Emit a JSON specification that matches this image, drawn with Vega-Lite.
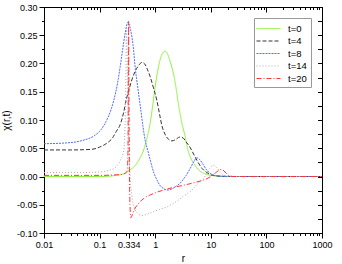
{
  "$schema": "https://vega.github.io/schema/vega-lite/v6.json",
  "width": 278,
  "height": 226,
  "autosize": "none",
  "padding": {"left": 44, "top": 7, "right": 20, "bottom": 31},
  "background": "white",
  "config": {
    "view": {"stroke": "black", "strokeWidth": 1},
    "font": "Liberation Sans",
    "axis": {"domainColor": "black", "tickColor": "black", "labelColor": "black", "titleColor": "black", "grid": false, "labelFont": "Liberation Sans", "titleFont": "Liberation Sans", "labelFontSize": 9, "titleFontSize": 10, "titleFontWeight": "normal", "labelFlush": false, "labelOverlap": false},
    "legend": {"orient": "top-right", "offset": 11, "strokeColor": "#999999", "fillColor": "white", "padding": 4, "symbolType": "M-2,0H2", "symbolSize": 144, "symbolOffset": 4, "labelOffset": 13, "symbolStrokeWidth": 1, "labelFontSize": 9.5, "labelFont": "Liberation Sans", "labelColor": "black", "rowPadding": 1.5, "cornerRadius": 0}
  },
  "data": {"values": [
    {"t":"t=0","r":0.01,"v":0},{"t":"t=0","r":0.05,"v":0},{"t":"t=0","r":0.1,"v":0},{"t":"t=0","r":0.2,"v":0.002},{"t":"t=0","r":0.29,"v":0.006},{"t":"t=0","r":0.35,"v":0.011},{"t":"t=0","r":0.44,"v":0.02},{"t":"t=0","r":0.53,"v":0.032},{"t":"t=0","r":0.62,"v":0.047},{"t":"t=0","r":0.72,"v":0.07},{"t":"t=0","r":0.81,"v":0.094},{"t":"t=0","r":0.9,"v":0.125},{"t":"t=0","r":1.0,"v":0.159},{"t":"t=0","r":1.1,"v":0.185},{"t":"t=0","r":1.2,"v":0.203},{"t":"t=0","r":1.35,"v":0.218},{"t":"t=0","r":1.5,"v":0.222},{"t":"t=0","r":1.65,"v":0.218},{"t":"t=0","r":1.8,"v":0.208},{"t":"t=0","r":2.0,"v":0.193},{"t":"t=0","r":2.3,"v":0.165},{"t":"t=0","r":2.6,"v":0.13},{"t":"t=0","r":3.0,"v":0.096},{"t":"t=0","r":3.4,"v":0.074},{"t":"t=0","r":4.0,"v":0.042},{"t":"t=0","r":4.6,"v":0.028},{"t":"t=0","r":5.2,"v":0.02},{"t":"t=0","r":6.0,"v":0.012},{"t":"t=0","r":7.7,"v":0.005},{"t":"t=0","r":10,"v":0.002},{"t":"t=0","r":15,"v":0.0005},{"t":"t=0","r":30,"v":0},{"t":"t=0","r":100,"v":0},{"t":"t=0","r":1000,"v":0},
    {"t":"t=4","r":0.01,"v":0.047},{"t":"t=4","r":0.03,"v":0.047},{"t":"t=4","r":0.07,"v":0.048},{"t":"t=4","r":0.1,"v":0.052},{"t":"t=4","r":0.135,"v":0.059},{"t":"t=4","r":0.17,"v":0.068},{"t":"t=4","r":0.2,"v":0.08},{"t":"t=4","r":0.235,"v":0.092},{"t":"t=4","r":0.27,"v":0.113},{"t":"t=4","r":0.3,"v":0.135},{"t":"t=4","r":0.34,"v":0.155},{"t":"t=4","r":0.38,"v":0.171},{"t":"t=4","r":0.43,"v":0.185},{"t":"t=4","r":0.5,"v":0.196},{"t":"t=4","r":0.576,"v":0.202},{"t":"t=4","r":0.65,"v":0.199},{"t":"t=4","r":0.72,"v":0.19},{"t":"t=4","r":0.81,"v":0.177},{"t":"t=4","r":0.93,"v":0.157},{"t":"t=4","r":1.07,"v":0.135},{"t":"t=4","r":1.2,"v":0.11},{"t":"t=4","r":1.32,"v":0.09},{"t":"t=4","r":1.5,"v":0.075},{"t":"t=4","r":1.73,"v":0.066},{"t":"t=4","r":2.0,"v":0.063},{"t":"t=4","r":2.3,"v":0.065},{"t":"t=4","r":2.8,"v":0.07},{"t":"t=4","r":3.2,"v":0.068},{"t":"t=4","r":3.6,"v":0.061},{"t":"t=4","r":4.1,"v":0.054},{"t":"t=4","r":4.6,"v":0.045},{"t":"t=4","r":5.6,"v":0.029},{"t":"t=4","r":7,"v":0.014},{"t":"t=4","r":8.5,"v":0.007},{"t":"t=4","r":10,"v":0.003},{"t":"t=4","r":15,"v":0.0005},{"t":"t=4","r":30,"v":0},{"t":"t=4","r":100,"v":0},{"t":"t=4","r":1000,"v":0},
    {"t":"t=8","r":0.01,"v":0.058},{"t":"t=8","r":0.03,"v":0.06},{"t":"t=8","r":0.05,"v":0.064},{"t":"t=8","r":0.08,"v":0.072},{"t":"t=8","r":0.1,"v":0.08},{"t":"t=8","r":0.13,"v":0.097},{"t":"t=8","r":0.16,"v":0.118},{"t":"t=8","r":0.18,"v":0.135},{"t":"t=8","r":0.21,"v":0.165},{"t":"t=8","r":0.235,"v":0.195},{"t":"t=8","r":0.26,"v":0.225},{"t":"t=8","r":0.29,"v":0.255},{"t":"t=8","r":0.323,"v":0.273},{"t":"t=8","r":0.36,"v":0.26},{"t":"t=8","r":0.4,"v":0.232},{"t":"t=8","r":0.44,"v":0.19},{"t":"t=8","r":0.49,"v":0.155},{"t":"t=8","r":0.54,"v":0.124},{"t":"t=8","r":0.6,"v":0.09},{"t":"t=8","r":0.66,"v":0.064},{"t":"t=8","r":0.74,"v":0.045},{"t":"t=8","r":0.81,"v":0.03},{"t":"t=8","r":0.87,"v":0.018},{"t":"t=8","r":0.95,"v":0.006},{"t":"t=8","r":1.05,"v":-0.004},{"t":"t=8","r":1.2,"v":-0.015},{"t":"t=8","r":1.4,"v":-0.021},{"t":"t=8","r":1.62,"v":-0.024},{"t":"t=8","r":2.0,"v":-0.022},{"t":"t=8","r":2.4,"v":-0.017},{"t":"t=8","r":2.8,"v":-0.012},{"t":"t=8","r":3.2,"v":-0.005},{"t":"t=8","r":3.6,"v":0.002},{"t":"t=8","r":4.3,"v":0.015},{"t":"t=8","r":5.0,"v":0.027},{"t":"t=8","r":5.6,"v":0.033},{"t":"t=8","r":6.3,"v":0.03},{"t":"t=8","r":7,"v":0.024},{"t":"t=8","r":8.5,"v":0.011},{"t":"t=8","r":10,"v":0.005},{"t":"t=8","r":13,"v":0.001},{"t":"t=8","r":20,"v":0},{"t":"t=8","r":100,"v":0},{"t":"t=8","r":1000,"v":0},
    {"t":"t=14","r":0.01,"v":0.007},{"t":"t=14","r":0.05,"v":0.007},{"t":"t=14","r":0.1,"v":0.008},{"t":"t=14","r":0.15,"v":0.011},{"t":"t=14","r":0.18,"v":0.014},{"t":"t=14","r":0.205,"v":0.019},{"t":"t=14","r":0.24,"v":0.03},{"t":"t=14","r":0.27,"v":0.045},{"t":"t=14","r":0.285,"v":0.08},{"t":"t=14","r":0.295,"v":0.16},{"t":"t=14","r":0.305,"v":0.265},{"t":"t=14","r":0.315,"v":0.2},{"t":"t=14","r":0.33,"v":0.09},{"t":"t=14","r":0.35,"v":0.01},{"t":"t=14","r":0.38,"v":-0.033},{"t":"t=14","r":0.42,"v":-0.055},{"t":"t=14","r":0.48,"v":-0.065},{"t":"t=14","r":0.576,"v":-0.069},{"t":"t=14","r":0.7,"v":-0.067},{"t":"t=14","r":0.85,"v":-0.064},{"t":"t=14","r":1.0,"v":-0.061},{"t":"t=14","r":1.3,"v":-0.057},{"t":"t=14","r":1.62,"v":-0.054},{"t":"t=14","r":2.0,"v":-0.049},{"t":"t=14","r":2.5,"v":-0.043},{"t":"t=14","r":3.2,"v":-0.035},{"t":"t=14","r":4.26,"v":-0.027},{"t":"t=14","r":5.2,"v":-0.018},{"t":"t=14","r":6.2,"v":-0.01},{"t":"t=14","r":7.4,"v":-0.003},{"t":"t=14","r":8.5,"v":0.006},{"t":"t=14","r":9.5,"v":0.014},{"t":"t=14","r":11.2,"v":0.02},{"t":"t=14","r":13,"v":0.015},{"t":"t=14","r":15,"v":0.007},{"t":"t=14","r":18,"v":0.001},{"t":"t=14","r":25,"v":0},{"t":"t=14","r":100,"v":0},{"t":"t=14","r":1000,"v":0},
    {"t":"t=20","r":0.01,"v":0.002},{"t":"t=20","r":0.1,"v":0.002},{"t":"t=20","r":0.2,"v":0.003},{"t":"t=20","r":0.26,"v":0.004},{"t":"t=20","r":0.3,"v":0.007},{"t":"t=20","r":0.315,"v":0.012},{"t":"t=20","r":0.323,"v":0.04},{"t":"t=20","r":0.328,"v":0.15},{"t":"t=20","r":0.332,"v":0.275},{"t":"t=20","r":0.337,"v":0.15},{"t":"t=20","r":0.343,"v":0.02},{"t":"t=20","r":0.352,"v":-0.05},{"t":"t=20","r":0.365,"v":-0.073},{"t":"t=20","r":0.38,"v":-0.07},{"t":"t=20","r":0.42,"v":-0.059},{"t":"t=20","r":0.5,"v":-0.048},{"t":"t=20","r":0.62,"v":-0.039},{"t":"t=20","r":0.8,"v":-0.033},{"t":"t=20","r":1.0,"v":-0.029},{"t":"t=20","r":1.41,"v":-0.024},{"t":"t=20","r":2.0,"v":-0.02},{"t":"t=20","r":3.23,"v":-0.0155},{"t":"t=20","r":5,"v":-0.011},{"t":"t=20","r":7,"v":-0.007},{"t":"t=20","r":8.5,"v":-0.004},{"t":"t=20","r":10,"v":0.0},{"t":"t=20","r":12,"v":0.006},{"t":"t=20","r":14,"v":0.011},{"t":"t=20","r":15.8,"v":0.0125},{"t":"t=20","r":18,"v":0.008},{"t":"t=20","r":21,"v":0.002},{"t":"t=20","r":25,"v":0},{"t":"t=20","r":100,"v":0},{"t":"t=20","r":1000,"v":0}
  ]},
  "resolve": {"axis": {"x": "independent", "y": "independent"}},
  "layer": [
    {
      "mark": {"type": "point", "opacity": 0},
      "encoding": {
        "x": {"field": "r", "type": "quantitative", "scale": {"type": "log", "domain": [0.01, 1000], "nice": false},
              "axis": {"orient": "bottom", "values": [0.02,0.03,0.04,0.05,0.06,0.07,0.08,0.09,0.2,0.3,0.4,0.5,0.6,0.7,0.8,0.9,2,3,4,5,6,7,8,9,20,30,40,50,60,70,80,90,200,300,400,500,600,700,800,900], "labels": false, "domain": false, "tickSize": 2.5, "title": null}},
        "y": {"field": "v", "type": "quantitative", "scale": {"domain": [-0.1, 0.3], "nice": false, "zero": false},
              "axis": {"orient": "left", "values": [-0.075,-0.025,0.025,0.075,0.125,0.175,0.225,0.275], "labels": false, "domain": false, "tickSize": 2.5, "title": null}}
      }
    },
    {
      "mark": {"type": "point", "opacity": 0},
      "encoding": {
        "x": {"field": "r", "type": "quantitative", "scale": {"type": "log", "domain": [0.01, 1000], "nice": false},
              "axis": {"orient": "top", "values": [0.01,0.1,1,10,100,1000], "labels": false, "tickSize": -5, "title": null}},
        "y": {"field": "v", "type": "quantitative", "scale": {"domain": [-0.1, 0.3], "nice": false, "zero": false},
              "axis": {"orient": "right", "values": [-0.1,-0.075,-0.05,-0.025,0,0.025,0.05,0.075,0.1,0.125,0.15,0.175,0.2,0.225,0.25,0.275,0.3], "labels": false, "tickSize": -4.5, "title": null}}
      }
    },
    {
      "mark": {"type": "point", "opacity": 0},
      "encoding": {
        "x": {"field": "r", "type": "quantitative", "scale": {"type": "log", "domain": [0.01, 1000], "nice": false},
              "axis": {"orient": "top", "values": [0.02,0.03,0.04,0.05,0.06,0.07,0.08,0.09,0.2,0.3,0.4,0.5,0.6,0.7,0.8,0.9,2,3,4,5,6,7,8,9,20,30,40,50,60,70,80,90,200,300,400,500,600,700,800,900], "labels": false, "domain": false, "tickSize": -2.5, "title": null}},
        "y": {"field": "v", "type": "quantitative", "scale": {"domain": [-0.1, 0.3], "nice": false, "zero": false}, "axis": null}
      }
    },
    {
      "mark": {"type": "line", "strokeWidth": 1, "interpolate": "monotone"},
      "encoding": {
        "x": {"field": "r", "type": "quantitative", "scale": {"type": "log", "domain": [0.01, 1000], "nice": false},
              "axis": {"orient": "bottom", "values": [0.01,0.1,0.334,1,10,100,1000], "labelExpr": "'' + datum.value", "tickSize": 5, "labelPadding": 2, "title": "r", "titlePadding": 4}},
        "y": {"field": "v", "type": "quantitative", "scale": {"domain": [-0.1, 0.3], "nice": false, "zero": false},
              "axis": {"orient": "left", "values": [-0.1,-0.05,0,0.05,0.1,0.15,0.2,0.25,0.3], "labelExpr": "replace(format(datum.value, '.2f'), '\u2212', '-')", "tickSize": 5, "labelPadding": 2, "title": "χ(r,t)", "titlePadding": 5}},
        "color": {"field": "t", "type": "nominal", "title": null,
                  "scale": {"domain": ["t=0","t=4","t=8","t=14","t=20"], "range": ["#8ef03c","#333333","#4f6cff","#aaaaaa","#ff3333"]}},
        "strokeDash": {"field": "t", "type": "nominal", "title": null,
                  "scale": {"domain": ["t=0","t=4","t=8","t=14","t=20"], "range": [[1,0],[4,2],[2,1],[1,2],[5,2,1,2]]}},
        "order": {"field": "r", "type": "quantitative"}
      }
    }
  ]
}
